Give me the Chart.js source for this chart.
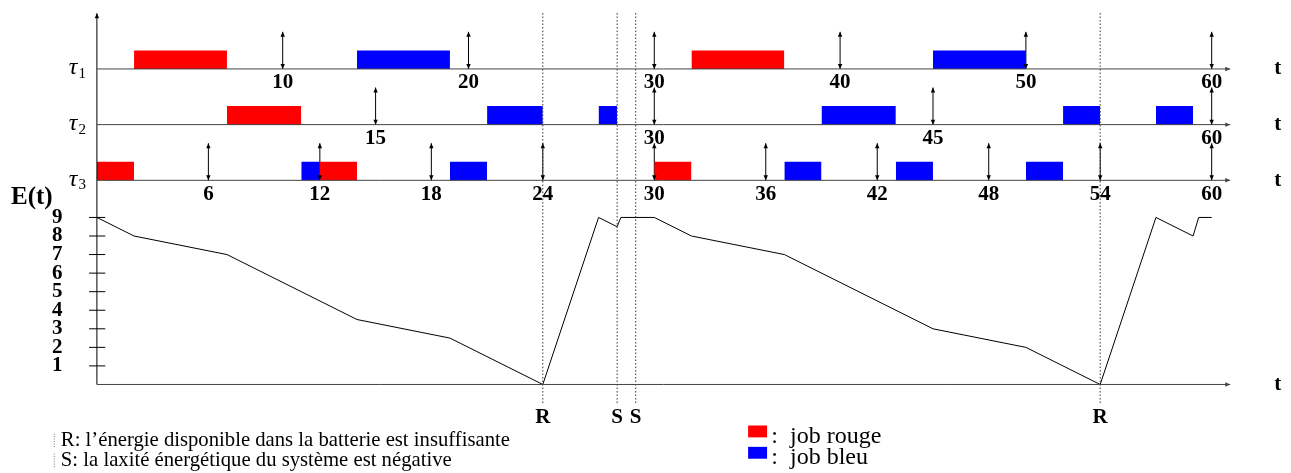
<!DOCTYPE html>
<html><head><meta charset="utf-8">
<script src="https://cdn.jsdelivr.net/npm/chart.js@4"></script>
<style>html,body{margin:0;padding:0;background:#fff}#wrap{width:1291px;height:473px}</style>
</head><body><div id="wrap"><canvas id="c" width="1291" height="473"></canvas></div>
<script>
// ---------- data ----------
const tau1Red  = [[2,7],[32,37]];
const tau1Blue = [[14,19],[45,50]];
const tau2Red  = [[7,11]];
const tau2Blue = [[21,24],[27,28],[39,43],[52,54],[57,59]];
const tau3Red  = [[0,2],[12,14],[30,32]];
const tau3Blue = [[11,12],[19,21],[37,39],[43,45],[50,52]];
const tau1Periods = [10,20,30,40,50,60];
const tau2Periods = [15,30,45,60];
const tau3Periods = [6,12,18,24,30,36,42,48,54,60];
const energyT = [0,2,7,14,19,24,27,28,28.2,30,32,37,45,50,54,57,59,59.3,60];
const energyE = [9,8,7,3.5,2.5,0,9,8.5,9,9,8,7,3,2,0,9,8,9,9];
const energyTicks = [1,2,3,4,5,6,7,8,9];
const eventTimes  = [24,28,29,54];
const eventLabels = ['R','S','S','R'];
const taskNames = ['1','2','3'];
const legendNotes = ["R: l\u2019\u00e9nergie disponible dans la batterie est insuffisante",
                     "S: la laxit\u00e9 \u00e9nerg\u00e9tique du syst\u00e8me est n\u00e9gative"];
const jobNames = [':  job rouge', ':  job bleu'];

// ---------- layout / style ----------
const L = { rowBase:[17,14,11], barH:1, arrowH:2, tEnd:61, axisTop:20, dotTop:20.1, dotBottom:-1 };
const RED = '#ff0000', BLUE = '#0000ff', AX = '#444';
const BOLD = 'bold 21px "Liberation Serif"';

const datasets = [];
function line(pts, o){ datasets.push(Object.assign({type:'line', data:pts, borderColor:'#000', borderWidth:1, pointRadius:0, fill:false, tension:0, clip:false}, o||{})); }
function rect(t0,t1,base,color){
  datasets.push({type:'line', data:[{x:t0,y:base},{x:t0,y:base+L.barH},{x:t1,y:base+L.barH},{x:t1,y:base}],
    fill:{value:base}, backgroundColor:color, borderColor:'rgba(0,0,0,0)', borderWidth:0, pointRadius:0, tension:0, clip:false});
}
// axes
L.rowBase.forEach(b => line([{x:0,y:b},{x:L.tEnd,y:b}], {borderColor:AX, arrowEnd:true}));
line([{x:0,y:0},{x:L.tEnd,y:0}], {borderColor:AX, arrowEnd:true});
line([{x:0,y:0},{x:0,y:L.axisTop}], {borderColor:'#000', arrowEnd:true});
// energy ticks
energyTicks.forEach(v => line([{x:-0.42,y:v},{x:0.45,y:v}], {borderColor:'#000'}));
// dotted event lines
eventTimes.forEach(t => line([{x:t,y:L.dotBottom},{x:t,y:L.dotTop}], {borderColor:'#333', borderDash:[1.5,2]}));
// bars
[[tau1Red,RED,0],[tau1Blue,BLUE,0],[tau2Red,RED,1],[tau2Blue,BLUE,1],[tau3Red,RED,2],[tau3Blue,BLUE,2]]
  .forEach(([arr,col,r]) => arr.forEach(([a,b]) => rect(a,b,L.rowBase[r],col)));
// period arrows
[tau1Periods,tau2Periods,tau3Periods].forEach((arr,r) => arr.forEach(t =>
  line([{x:t,y:L.rowBase[r]},{x:t,y:L.rowBase[r]+L.arrowH}], {arrowEnd:true, arrowStart:true})));
// energy curve
line(energyT.map((t,i)=>({x:t,y:energyE[i]})), {borderColor:'#000'});

function head(ctx, from, to, color){
  const a = Math.atan2(to.y-from.y, to.x-from.x), len=5, w=2.2;
  ctx.save(); ctx.fillStyle=color; ctx.beginPath();
  ctx.moveTo(to.x, to.y);
  ctx.lineTo(to.x - len*Math.cos(a) + w*Math.sin(a), to.y - len*Math.sin(a) - w*Math.cos(a));
  ctx.lineTo(to.x - len*Math.cos(a) - w*Math.sin(a), to.y - len*Math.sin(a) + w*Math.cos(a));
  ctx.closePath(); ctx.fill(); ctx.restore();
}
const arrowPlugin = { id:'arrows', afterDatasetsDraw(chart){
  const ctx = chart.ctx;
  chart.data.datasets.forEach((ds,i) => {
    const pts = chart.getDatasetMeta(i).data; if(pts.length<2) return;
    if(ds.arrowEnd) head(ctx, pts[pts.length-2], pts[pts.length-1], ds.borderColor);
    if(ds.arrowStart) head(ctx, pts[1], pts[0], ds.borderColor);
  });
}};
const textPlugin = { id:'texts', afterDraw(chart){
  const ctx = chart.ctx, X = chart.scales.x, Y = chart.scales.y;
  const px = v => X.getPixelForValue(v), py = v => Y.getPixelForValue(v);
  ctx.save(); ctx.fillStyle = '#000';
  // period tick labels
  ctx.font = BOLD; ctx.textAlign='center'; ctx.textBaseline='middle';
  [tau1Periods,tau2Periods,tau3Periods].forEach((arr,r) => arr.forEach(t =>
    ctx.fillText(String(t), px(t), py(L.rowBase[r]-0.75))));
  // t labels
  [...L.rowBase, 0].forEach(b => ctx.fillText('t', px(63.55), py(b)));
  // events
  eventTimes.forEach((t,i) => ctx.fillText(eventLabels[i], px(t), py(-1.8)));
  // energy tick labels
  ctx.textAlign='right';
  energyTicks.forEach(v => ctx.fillText(String(v), px(-1.85), py(v)));
  ctx.textAlign='center';
  ctx.font = 'bold 25px "Liberation Serif"';
  ctx.fillText('E(t)', px(-3.5), py(10.05));
  // task names
  L.rowBase.forEach((b,r) => {
    ctx.font = 'italic 24px "Liberation Serif"'; ctx.textAlign='right';
    ctx.fillText('\u03c4', px(-1.05), py(b)-1);
    ctx.font = '15px "Liberation Serif"'; ctx.textAlign='left';
    ctx.fillText(taskNames[r], px(-1.05)+1, py(b)+5);
  });
  // notes
  ctx.font = '20.7px "Liberation Serif"'; ctx.textAlign='left';
  legendNotes.forEach((s,i) => ctx.fillText(s, px(-1.94), py(-3.02 - i*1.08)));
  ctx.strokeStyle='#777'; ctx.setLineDash([1,1.5]); ctx.lineWidth=1;
  [0,1].forEach(i => { const yc = py(-3.02 - i*1.08); ctx.beginPath(); ctx.moveTo(px(-2.32)+0.5, yc-7); ctx.lineTo(px(-2.32)+0.5, yc+7); ctx.stroke(); });
  ctx.setLineDash([]);
  // job legend
  ctx.font = '24px "Liberation Serif"';
  [[RED,-2.21],[BLUE,-3.36]].forEach(([c,y0],i) => {
    ctx.fillStyle=c; ctx.fillRect(px(35.05), py(y0), px(36.07)-px(35.05), py(y0-0.64)-py(y0));
    ctx.fillStyle='#000'; ctx.fillText(jobNames[i], px(36.3), py(-2.82 - i*1.15));
  });
  ctx.restore();
}};

new Chart(document.getElementById('c'), {
  type:'line',
  data:{ datasets },
  options:{
    responsive:false, animation:false, devicePixelRatio:1,
    layout:{ padding:{left:4, right:5, top:4, bottom:5} },
    plugins:{ legend:{display:false}, tooltip:{enabled:false} },
    scales:{
      x:{ type:'linear', min:-5, max:64, display:false },
      y:{ type:'linear', min:-4.5, max:20.5, display:false }
    },
    elements:{ line:{ borderCapStyle:'butt' } }
  },
  plugins:[arrowPlugin, textPlugin]
});
</script></body></html>
